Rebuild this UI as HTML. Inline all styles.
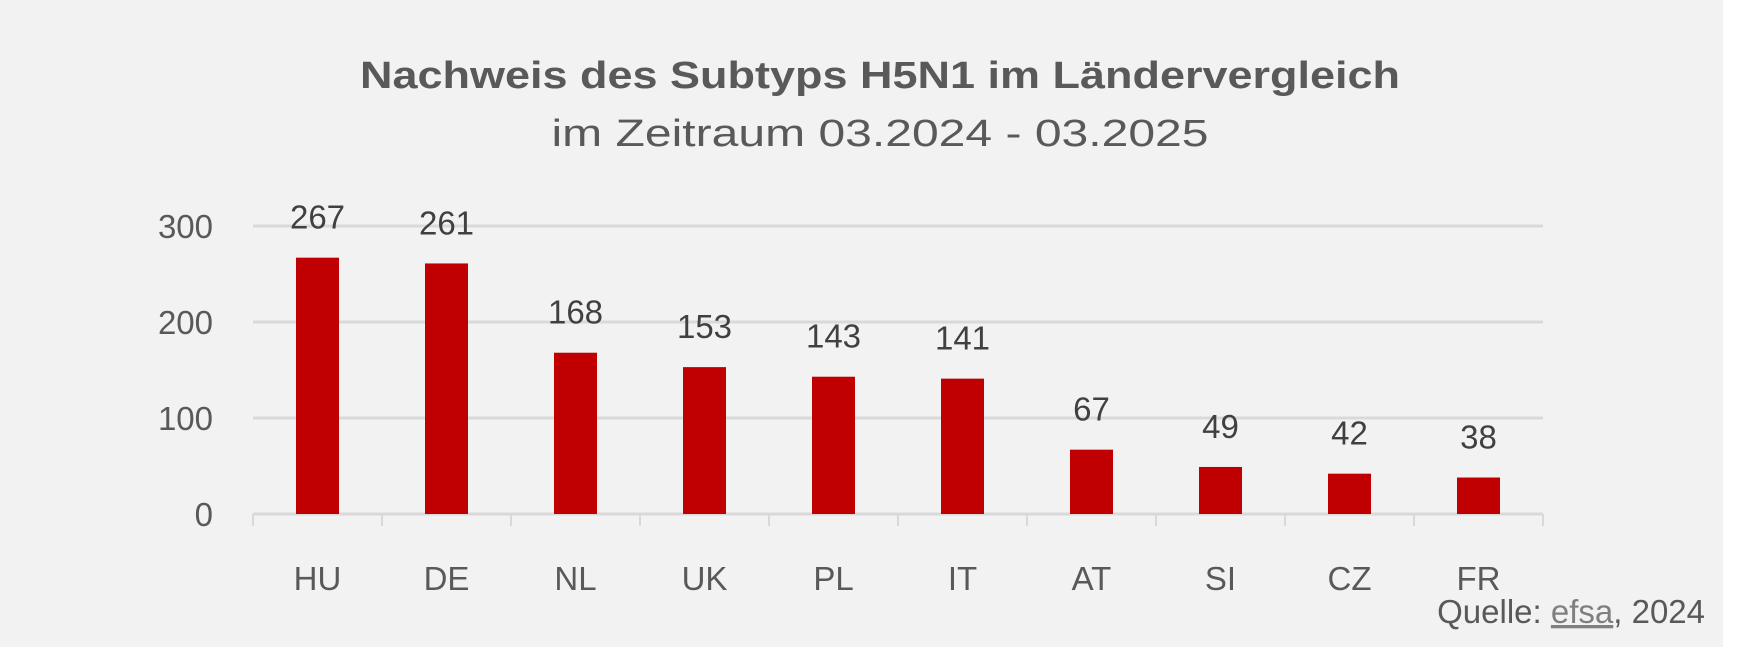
<!DOCTYPE html>
<html><head><meta charset="utf-8"><style>
html,body{margin:0;padding:0;background:#fff;}
svg{display:block;font-family:"Liberation Sans",sans-serif;}
</style></head><body>
<svg id="chart" width="1744" height="655">
<rect x="0" y="0" width="1723" height="647" fill="#f2f2f2"/>
<text x="880" y="88" text-anchor="middle" font-size="38" font-weight="bold" fill="#595959" textLength="1040" lengthAdjust="spacingAndGlyphs">Nachweis des Subtyps H5N1 im Ländervergleich</text>
<text x="880" y="146" text-anchor="middle" font-size="38" fill="#595959" textLength="657" lengthAdjust="spacingAndGlyphs">im Zeitraum 03.2024 - 03.2025</text>
<g id="grid"></g><g id="bars"></g><g id="labels"></g>
<text x="1705" y="623" text-anchor="end" font-size="33" fill="#595959">Quelle: <tspan fill="#7f7f7f" text-decoration="underline">efsa</tspan>, 2024</text>
</svg>
<script>
const categories=["HU","DE","NL","UK","PL","IT","AT","SI","CZ","FR"];
const values=[267,261,168,153,143,141,67,49,42,38];
const yTicks=[0,100,200,300];
const NS="http://www.w3.org/2000/svg";
const x0=253,x1=1543,yZero=514,pxPerUnit=0.96;
const bw=(x1-x0)/categories.length;
function y(v){return yZero-v*pxPerUnit;}
function xc(i){return x0+bw*(i+0.5);}
function mk(tag,attrs,parent,text){const e=document.createElementNS(NS,tag);for(const k in attrs)e.setAttribute(k,attrs[k]);if(text!==undefined)e.textContent=text;parent.appendChild(e);return e;}
const grid=document.getElementById('grid'),bars=document.getElementById('bars'),labels=document.getElementById('labels');
yTicks.forEach(t=>{
 const l=mk('line',{x1:x0,x2:x1,y1:y(t),y2:y(t),stroke:'#d9d9d9','stroke-width':3},grid);
 
 
 const tx=mk('text',{x:213,y:y(t)+12,'text-anchor':'end','font-size':33,fill:'#595959'},labels,String(t));
 
 
});
for(let i=0;i<=categories.length;i++){
 const tk=mk('line',{x1:x0+bw*i,x2:x0+bw*i,y1:yZero,y2:yZero+12,stroke:'#d9d9d9','stroke-width':2},grid);
 
 
}
categories.forEach((c,i)=>{
 const v=values[i];
 const r=mk('rect',{x:xc(i)-21.5,y:y(v),width:43,height:yZero-y(v),fill:'#c00000'},bars);
 
 
 const vl=mk('text',{x:xc(i),y:y(v)-29+0,'text-anchor':'middle','font-size':33,fill:'#404040'},labels,String(v));
 
 
 const cl=mk('text',{x:xc(i),y:590,'text-anchor':'middle','font-size':33,fill:'#595959'},labels,c);
 
 
});
</script>
</body></html>
